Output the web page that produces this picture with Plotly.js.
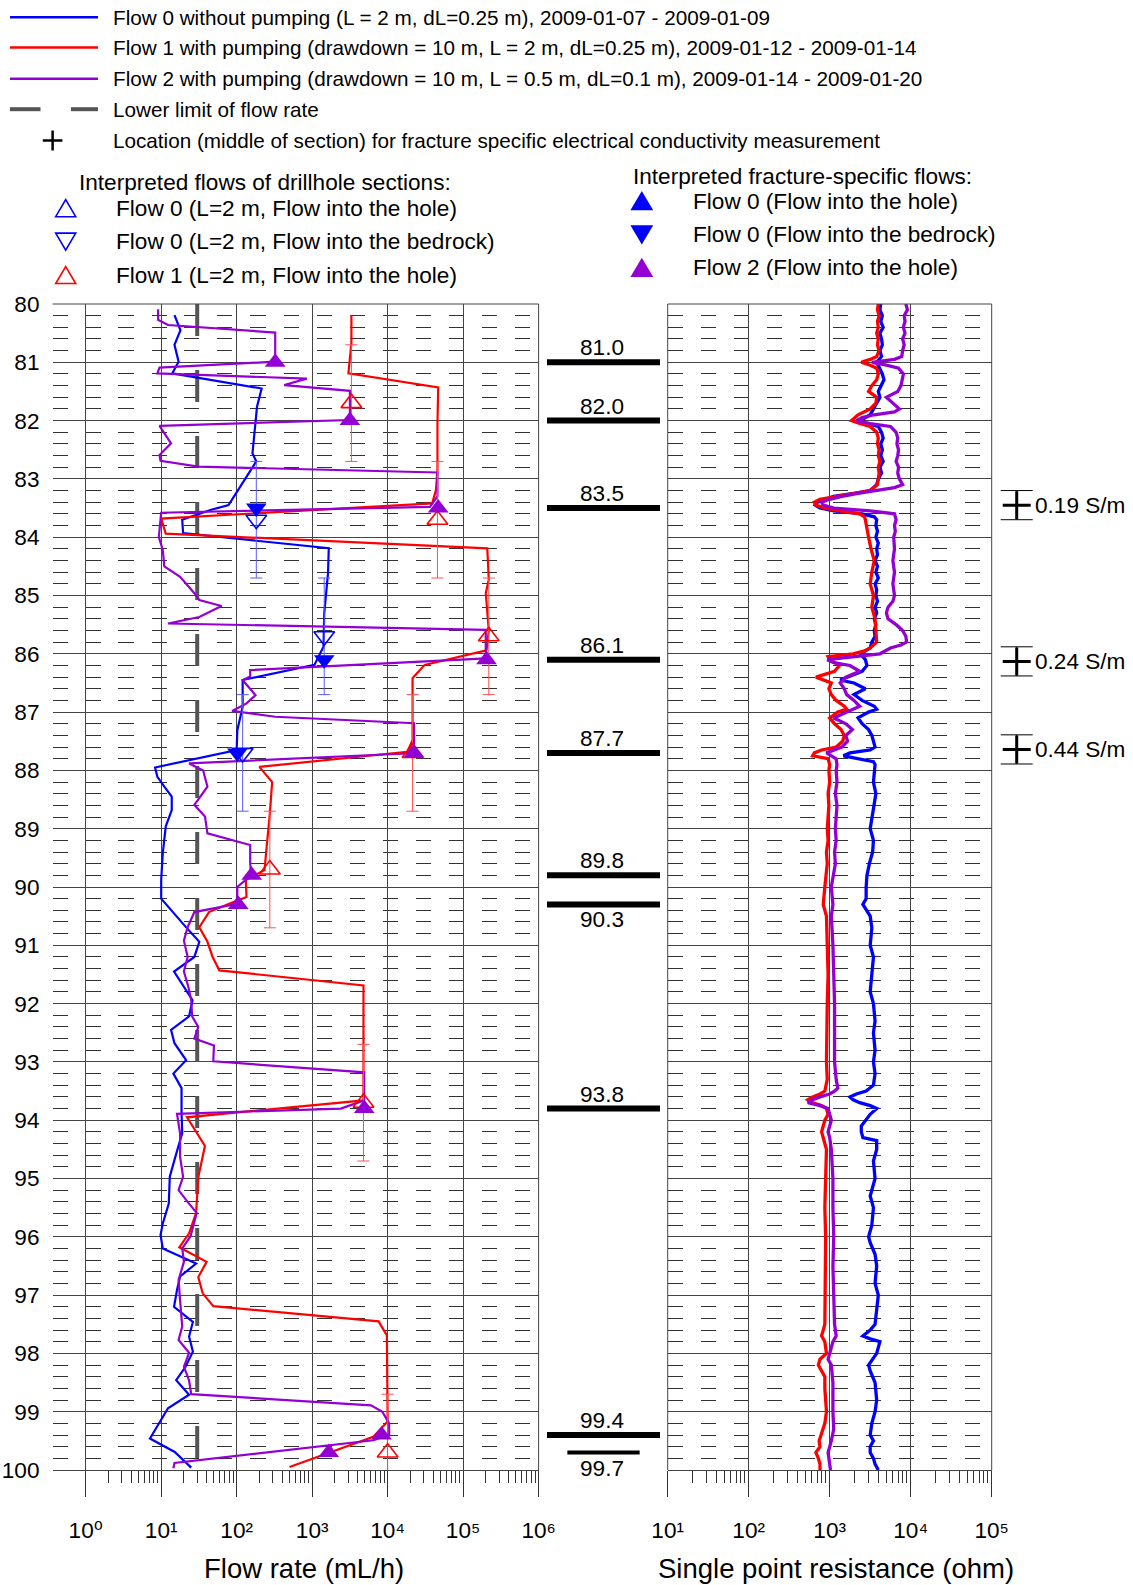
<!DOCTYPE html>
<html><head><meta charset="utf-8">
<script src="https://cdn.plot.ly/plotly-3.0.1.min.js"></script>
<style>html,body{margin:0;padding:0;background:#fff}#chart{width:1133px;height:1585px}</style>
</head><body><div id="chart"></div>
<script>
// ---------------- DATA ----------------
// Flow 0 without pumping (L = 2 m, dL = 0.25 m) : depth (m) / flow (mL/h)
const flow0Depth = [80.19,80.45,80.70,80.99,81.19,81.45,81.76,82.05,82.39,82.56,82.70,83.02,83.45,83.53,83.70,83.93,84.19,84.62,85.31,85.88,86.19,86.45,86.91,87.31,87.65,87.95,88.11,88.28,88.45,88.68,88.96,89.42,89.88,90.20,90.45,90.68,90.94,91.20,91.45,91.71,91.94,92.22,92.45,92.68,92.97,93.20,93.45,93.88,94.22,94.68,94.97,95.43,95.77,95.97,96.20,96.46,96.68,96.91,97.20,97.46,97.71,97.97,98.23,98.46,98.71,98.94,99.46,99.69,99.96];
const flow0Rate  = [15,18,15,17,14,214,186,178,166,162,182,126,78,46,19,19.5,1660,1622,1445,1413,1072,120,120,102,100,8.3,8.9,11,13.8,13.8,11.5,10.5,10,10,14.5,21,32,27.5,14.8,20,26,23.4,13.5,15,21.4,14.5,18.6,18.6,19,15,13,12.6,10.5,9.8,10.5,29,17.8,16.2,14.8,26.3,23.4,26.3,21,15.8,23.4,12.3,7.1,15.1,25];

// Flow 1 with pumping (L = 2 m, dL = 0.25 m)
const flow1Depth = [80.19,80.67,81.19,81.43,82.05,82.85,83.19,83.42,83.68,83.94,84.19,84.73,84.96,85.60,85.94,86.19,86.42,87.02,87.48,87.68,87.94,88.20,88.74,89.42,89.71,89.88,90.17,90.29,90.43,90.69,90.94,91.20,91.43,91.69,93.66,93.95,94.44,94.98,95.59,95.94,96.18,96.43,96.69,96.97,97.19,97.45,97.69,99.17,99.43,99.95];
const flow1Rate  = [3311,3311,3020,46774,45709,45709,43652,38905,10,11.5,208930,218776,199526,218776,204174,30903,21380,21380,21380,18197,200,295,275,245,234,132,135,78,43,32,41,48,59,4786,4786,22,38,31,29,23.4,17.4,40,31,35.5,49,7586,9772,10000,6457,501];

// Flow 2 with pumping (L = 0.5 m, dL = 0.1 m)
const flow2Depth = [80.09,80.27,80.36,80.49,80.99,81.09,81.19,81.28,81.39,81.49,81.99,82.09,82.39,82.59,82.69,82.79,82.89,83.30,83.48,83.58,84.00,84.22,84.50,84.68,84.96,85.08,85.18,85.37,85.48,85.59,86.08,86.28,86.39,86.45,86.71,86.85,86.98,87.08,87.19,87.54,87.71,87.88,88.00,88.28,88.59,88.79,89.08,89.28,89.59,89.80,90.00,90.29,90.43,90.69,90.92,91.20,91.45,91.71,91.94,92.22,92.40,92.60,92.72,92.99,93.18,93.66,93.80,93.89,94.23,94.63,94.97,95.20,95.40,95.59,95.99,96.20,96.43,96.74,97.09,97.54,97.77,97.99,98.23,98.46,98.70,98.89,99.00,99.20,99.40,99.49,99.88,99.97];
const flow2Rate  = [9.1,9.1,12.3,324,324,9.5,8.9,851,427,3162,3162,9.5,13.5,9.5,9.8,31,45709,45709,36308,10,9.3,10.5,11,17.8,27.5,32,63,32,12.3,199526,199526,151,151,120,178,135,87,324,22387,22387,18197,23.4,36,41,27.5,38,41,151,151,155,102,102,27.5,22.4,20,22.4,20,22.9,25,25.7,31,27.5,50,49,4898,4898,2399,16.2,17.8,17.8,19.5,17,22.4,29.5,24.5,19,20,17,17.8,19,17,23.4,20,23.4,25,6026,8511,10471,10471,6457,15,14.5];

// Lower limit of flow rate
const lowerLimitDepth = [80.0, 100.0];
const lowerLimitRate  = [30, 30];

// Interpreted flows of drillhole sections (L = 2 m), section centres
const sectionHalfLength = 1.0;
const flow0SectionDepth = [83.7, 85.7, 87.7];
const flow0SectionRate  = [182, 1445, 120];
const flow1SectionDepth = [81.7, 83.7, 85.7, 87.7, 89.7, 93.7, 99.7];
const flow1SectionRate  = [3311, 45709, 218776, 21380, 275, 4786, 10000];

// Interpreted fracture-specific flows
const fractureDepths     = [81.0, 82.0, 83.5, 86.1, 87.7, 89.8, 90.3, 93.8, 99.4, 99.7];
const flow2FractureRate  = [324, 3162, 46774, 204174, 22387, 158, 105, 4898, 8318, 1660];
const flow0FractureDepth = [83.5, 86.1, 87.7];
const flow0FractureRate  = [182, 1445, 102];
const minorFractureDepths = [99.7];

// Fracture specific electrical conductivity
const ecDepths = [83.45, 86.13, 87.64];
const ecValues = [0.19, 0.24, 0.44];
const ecHalfLength = 0.25;

// Single point resistance (ohm)
const res0Depth = [
 80.0,80.1,80.2,80.3,80.4,80.5,80.6,80.7,80.8,80.9,
 81.0,81.1,81.2,81.3,81.4,81.5,81.6,81.7,81.8,81.9,
 82.0,82.05,82.1,82.2,82.3,82.4,82.5,82.6,82.7,82.8,82.9,
 83.0,83.1,83.2,83.25,83.3,83.4,83.45,83.5,83.55,83.6,83.65,83.7,83.8,83.9,
 84.0,84.1,84.2,84.3,84.4,84.5,84.6,84.7,84.8,84.9,
 85.0,85.1,85.2,85.3,85.4,85.5,85.6,85.7,85.8,85.9,
 86.0,86.1,86.2,86.3,86.4,86.45,86.5,86.6,86.7,86.8,86.9,86.95,
 87.0,87.1,87.2,87.3,87.4,87.5,87.6,87.65,87.7,87.75,87.8,87.85,87.9,
 88.0,88.2,88.4,88.6,88.8,
 89.0,89.2,89.4,89.6,89.8,
 90.0,90.2,90.3,90.5,90.7,
 91.0,91.2,91.5,91.8,
 92.0,92.3,92.5,92.8,
 93.0,93.2,93.4,93.5,93.55,93.6,93.65,93.7,93.75,93.8,93.9,
 94.0,94.1,94.2,94.3,94.35,94.5,94.7,
 95.0,95.3,95.5,95.8,
 96.0,96.1,96.3,96.5,96.8,
 97.0,97.3,97.5,97.6,97.7,97.75,97.8,
 98.0,98.2,98.3,98.5,98.8,
 99.0,99.2,99.4,99.5,99.6,99.7,99.8,99.9,
 100.0];
const res0Ohm = [
 4266,4169,4467,4266,4571,4169,4365,4467,4169,4365,
 3802,4169,4467,4677,4266,3981,4169,3802,3467,3162,
 2399,2818,3981,4365,4571,4266,4467,4266,4571,4169,4365,
 3981,3802,3162,1995,1122,708,661,759,1122,2512,3548,3802,3715,3890,
 3715,3981,3802,3890,3631,3890,3715,3981,3631,3802,
 3715,3890,3631,3802,3548,3715,3548,3631,3311,3162,
 2399,2754,2884,2512,1585,1349,1995,2754,1995,2512,3548,3802,
 3020,2239,2512,3020,3311,3467,3631,3162,1778,1479,2239,3467,3631,
 3548,3467,3715,3548,3311,
 3162,3467,3388,3090,2884,
 2818,2818,2570,3162,3311,
 3162,3467,3311,3162,
 3467,3631,3467,3631,
 3467,3631,3467,2818,2138,1778,1950,2344,3162,3802,3162,
 2818,2455,2455,2570,3802,3802,3467,
 3631,3162,3467,3311,
 3020,3162,3631,3802,3631,
 3981,3802,3631,3162,2570,3162,4169,
 3802,3020,3162,3631,3802,
 3631,3311,3162,3467,3162,3162,3467,3631,
 3981];

const res1Depth = [
 80.0,80.1,80.2,80.3,80.4,80.5,80.6,80.7,80.8,80.9,80.95,
 81.0,81.05,81.1,81.2,81.3,81.4,81.5,81.6,81.7,81.8,81.85,81.9,81.95,
 82.0,82.05,82.1,82.2,82.3,82.4,82.5,82.6,82.7,82.8,82.9,
 83.0,83.1,83.2,83.25,83.3,83.35,83.4,83.45,83.5,83.55,83.6,83.65,83.7,83.8,83.9,
 84.0,84.2,84.4,84.6,84.8,
 85.0,85.2,85.4,85.6,85.8,85.9,85.95,
 86.0,86.05,86.1,86.2,86.3,86.4,86.5,86.6,86.7,86.8,86.9,86.95,
 87.0,87.1,87.2,87.3,87.4,87.5,87.6,87.65,87.7,87.75,87.8,87.9,
 88.0,88.2,88.4,88.6,88.8,
 89.0,89.2,89.4,89.6,89.8,
 90.0,90.3,90.5,
 91.0,91.5,
 92.0,92.5,
 93.0,93.3,93.5,93.55,93.6,93.65,93.7,93.75,93.8,93.9,
 94.0,94.1,94.2,94.3,94.5,
 95.0,95.5,
 96.0,96.5,
 97.0,97.5,97.6,97.7,97.8,
 98.0,98.1,98.2,98.3,98.4,98.6,98.8,
 99.0,99.2,99.4,99.5,99.6,99.7,99.8,99.9,
 100.0];
const res1Ohm = [
 3981,3890,4074,3890,3981,3802,3981,3890,4074,3802,3162,
 2455,3162,3802,3981,3802,3311,3020,3802,3715,3162,2692,2239,2042,
 1862,2344,3162,3802,3981,3890,4074,3981,4169,3981,4074,
 3981,3890,3162,1950,1096,759,646,676,871,1318,2344,2692,2754,2818,2884,
 3020,3236,3548,3311,3162,
 3467,3311,3631,3715,3802,3162,2692,
 1950,955,1000,1318,1148,676,1047,977,1047,1202,1514,1622,
 1259,1000,1148,1380,1514,1445,1202,794,646,617,955,1000,
 977,1000,955,977,955,
 933,955,912,933,891,
 871,832,912,
 933,955,
 933,912,
 912,933,871,759,617,537,617,794,912,955,
 871,832,794,832,912,
 891,871,
 891,891,
 871,871,832,794,871,
 912,759,724,794,871,871,891,
 912,871,794,741,759,676,724,759,
 759];

const res2Depth = [
 80.0,80.1,80.2,80.3,80.4,80.5,80.6,80.7,80.8,80.9,80.95,
 81.0,81.05,81.1,81.2,81.3,81.4,81.5,81.6,81.7,81.8,81.85,81.9,81.95,
 82.0,82.05,82.1,82.2,82.3,82.4,82.5,82.6,82.7,82.8,82.9,
 83.0,83.1,83.15,83.2,83.25,83.3,83.35,83.4,83.45,83.5,83.55,83.6,83.7,83.8,83.9,
 84.0,84.2,84.4,84.6,84.8,
 85.0,85.1,85.2,85.3,85.4,85.5,85.6,85.7,85.8,85.85,85.9,
 86.0,86.05,86.1,86.15,86.2,86.3,86.4,86.5,86.6,86.7,86.8,86.9,
 87.0,87.1,87.2,87.3,87.4,87.5,87.6,87.7,87.75,87.8,87.9,
 88.0,88.2,88.4,88.6,88.8,
 89.0,89.2,89.4,89.6,89.8,
 90.0,90.3,90.5,
 91.0,91.5,
 92.0,92.5,
 93.0,93.3,93.45,93.5,93.55,93.6,93.65,93.7,93.75,93.8,93.9,
 94.0,94.2,94.3,94.5,
 95.0,95.5,
 96.0,96.5,
 97.0,97.5,97.7,97.8,
 98.0,98.1,98.2,98.5,
 99.0,99.3,99.5,99.6,99.7,99.8,99.9,
 100.0];
const res2Ohm = [
 8710,9120,8318,8511,8128,8511,7943,8318,7943,7762,6310,
 3311,5012,7079,8128,7943,7586,6918,5012,6026,7244,6310,3548,2512,
 2138,3162,5623,6607,6918,6761,7079,6918,6607,7079,6918,
 7244,7943,6310,3548,2239,1413,1000,794,832,1122,3162,6310,6607,6310,6457,
 6166,6310,6026,6310,6026,
 6310,6026,5248,5012,5248,6607,7943,8710,8913,7586,5623,
 4169,1995,933,1122,1778,2344,1585,1349,1514,1622,1995,2344,
 1585,1122,1585,1905,1585,1660,1413,912,1047,1202,1230,
 1202,1230,1175,1230,1202,
 1175,1202,1148,1175,1122,
 1047,1096,1047,
 1096,1122,
 1148,1148,
 1148,1202,1259,1148,1000,759,617,537,759,955,1000,
 1047,955,1000,1047,
 1096,1096,
 1122,1096,
 1122,1148,1202,1096,
 1000,955,1047,1096,
 1096,1122,1047,1000,955,977,1000,
 1023];

// Axis tick labels
const flowTickVals = [1, 10, 100, 1e3, 1e4, 1e5, 1e6];
const flowTickText = ['10\u2070','10\u00B9','10\u00B2','10\u00B3','10\u2074','10\u2075','10\u2076'];
const resTickVals = [10, 100, 1e3, 1e4, 1e5];
const resTickText = ['10\u00B9','10\u00B2','10\u00B3','10\u2074','10\u2075'];
const depthTicks = [80,81,82,83,84,85,86,87,88,89,90,91,92,93,94,95,96,97,98,99,100];

// Legend texts
const legendTop = [
  'Flow 0 without pumping (L = 2 m, dL=0.25 m), 2009-01-07 - 2009-01-09',
  'Flow 1 with pumping (drawdown = 10 m, L = 2 m, dL=0.25 m), 2009-01-12 - 2009-01-14',
  'Flow 2 with pumping (drawdown = 10 m, L = 0.5 m, dL=0.1 m), 2009-01-14 - 2009-01-20',
  'Lower limit of flow rate',
  'Location (middle of section) for fracture specific electrical conductivity measurement'
];
const legendSectionTitle = 'Interpreted flows of drillhole sections:';
const legendSection = ['Flow 0 (L=2 m, Flow into the hole)','Flow 0 (L=2 m, Flow into the bedrock)','Flow 1 (L=2 m, Flow into the hole)'];
const legendFractureTitle = 'Interpreted fracture-specific flows:';
const legendFracture = ['Flow 0 (Flow into the hole)','Flow 0 (Flow into the bedrock)','Flow 2 (Flow into the hole)'];

// ---------------- LAYOUT HELPERS ----------------
const W = 1133, H = 1585;
const PX = x => x / W, PY = y => 1 - y / H;
const C0 = '#0000ff', C1 = '#ff0000', C2 = '#9400d3', CL = '#555555', GRID = '#444444';
const FONT = 'Liberation Sans, Arial, Helvetica, DejaVu Sans, sans-serif';

const yDom = [PY(1470), PY(304)];
const xDom = [PX(52.5), PX(538.6)];
const x2Dom = [PX(667.7), PX(991.7)];
const x3Dom = [PX(547), PX(660)];
const x4Dom = [PX(991.7), 1];

function minorLogVals(d0, d1) {
  const v = [];
  for (let d = d0; d <= d1; d++) for (let k = 2; k <= 9; k++) v.push(k * Math.pow(10, d));
  return v;
}

// ---------------- TRACES ----------------
const traces = [];
traces.push({x: lowerLimitRate, y: lowerLimitDepth, xaxis:'x', yaxis:'y', mode:'lines',
  line:{color:CL, width:4, dash:'32px,34px'}});
traces.push({x: flow0Rate, y: flow0Depth, xaxis:'x', yaxis:'y', mode:'lines', line:{color:C0, width:2.2}});
traces.push({x: flow1Rate, y: flow1Depth, xaxis:'x', yaxis:'y', mode:'lines', line:{color:C1, width:2.2}});
traces.push({x: flow2Rate, y: flow2Depth, xaxis:'x', yaxis:'y', mode:'lines', line:{color:C2, width:2.2}});
traces.push({x: flow0SectionRate, y: flow0SectionDepth, xaxis:'x', yaxis:'y', mode:'markers',
  marker:{symbol:'triangle-down-open', size:18, color:C0, line:{width:1.6, color:C0}},
  error_y:{type:'constant', value:sectionHalfLength, color:'#5a5aff', thickness:1, width:6}});
traces.push({x: flow1SectionRate, y: flow1SectionDepth, xaxis:'x', yaxis:'y', mode:'markers', cliponaxis:false,
  marker:{symbol:'triangle-up-open', size:18, color:C1, line:{width:1.6, color:C1}},
  error_y:{type:'constant', value:sectionHalfLength, color:'#ff5050', thickness:1, width:6}});
traces.push({x: flow0FractureRate, y: flow0FractureDepth, xaxis:'x', yaxis:'y', mode:'markers',
  marker:{symbol:'triangle-down', size:18, color:C0}});
traces.push({x: flow2FractureRate, y: fractureDepths, xaxis:'x', yaxis:'y', mode:'markers',
  marker:{symbol:'triangle-up', size:18, color:C2}});

traces.push({x: res0Ohm, y: res0Depth, xaxis:'x2', yaxis:'y2', mode:'lines', line:{color:C0, width:3.3}});
traces.push({x: res1Ohm, y: res1Depth, xaxis:'x2', yaxis:'y2', mode:'lines', line:{color:C1, width:3.3}});
traces.push({x: res2Ohm, y: res2Depth, xaxis:'x2', yaxis:'y2', mode:'lines', line:{color:C2, width:3.3}});

// middle column: fracture depth bars
const majorBars = fractureDepths.filter(d => !minorFractureDepths.includes(d));
const barX = [], barY = [];
majorBars.forEach(d => { barX.push(0, 1, null); barY.push(d, d, null); });
traces.push({x: barX, y: barY, xaxis:'x3', yaxis:'y3', mode:'lines', line:{color:'#000', width:6}});
const mbX = [], mbY = [];
minorFractureDepths.forEach(d => { mbX.push(0.18, 0.82, null); mbY.push(d, d, null); });
traces.push({x: mbX, y: mbY, xaxis:'x3', yaxis:'y3', mode:'lines', line:{color:'#000', width:4}});

// EC measurement locations
traces.push({x: ecDepths.map(() => 0.177), y: ecDepths, xaxis:'x4', yaxis:'y4', mode:'markers', cliponaxis:false,
  marker:{symbol:'cross-thin', size:20, color:'#000', line:{width:3, color:'#000'}},
  error_y:{type:'constant', value:ecHalfLength, color:'#000', thickness:1, width:16}});

// ---------------- ANNOTATIONS & SHAPES ----------------
const annotations = [], shapes = [];
const txt = (x, y, text, size, opts={}) => Object.assign({xref:'paper', yref:'paper', x:PX(x), y:PY(y), text,
  showarrow:false, xanchor:'left', yanchor:'middle', font:{family:FONT, size, color:'#000'}}, opts);
const seg = (x0, y0, x1, y1, color, width) => ({type:'line', xref:'paper', yref:'paper',
  x0:PX(x0), y0:PY(y0), x1:PX(x1), y1:PY(y1), line:{color, width}});
function tri(cx, cy, up, color, filled) {
  const hw = 10, hh = 8.5;
  const pts = up ? [[cx-hw, cy+hh],[cx+hw, cy+hh],[cx, cy-hh]] : [[cx-hw, cy-hh],[cx+hw, cy-hh],[cx, cy+hh]];
  return {type:'path', xref:'paper', yref:'paper',
    path:'M' + pts.map(p => PX(p[0]).toFixed(5) + ',' + PY(p[1]).toFixed(5)).join('L') + 'Z',
    line:{color, width:1.6}, fillcolor: filled ? color : 'rgba(0,0,0,0)'};
}

// top legend
const topY = [17.2, 47.5, 78.8, 109.2, 140.5];
[C0, C1, C2].forEach((c, i) => shapes.push(seg(10, topY[i], 98, topY[i], c, 2.5)));
shapes.push(seg(10, topY[3], 40.5, topY[3], CL, 4));
shapes.push(seg(71, topY[3], 98, topY[3], CL, 4));
shapes.push(seg(42.8, topY[4], 62.4, topY[4], '#000', 2.5));
shapes.push(seg(52.6, topY[4]-10, 52.6, topY[4]+10, '#000', 2.5));
legendTop.forEach((t, i) => annotations.push(txt(110.5, topY[i], t, 20.7)));

// section legend
annotations.push(txt(77, 182, legendSectionTitle, 22.6));
const secY = [208.2, 241.6, 275];
shapes.push(tri(65.7, secY[0], true, C0, false));
shapes.push(tri(65.7, secY[1], false, C0, false));
shapes.push(tri(65.7, secY[2], true, C1, false));
legendSection.forEach((t, i) => annotations.push(txt(113.5, secY[i], t, 22.6)));

// fracture legend
annotations.push(txt(631, 176, legendFractureTitle, 22.6));
const frY = [201, 234.5, 267.8];
shapes.push(tri(641.8, frY[0], true, C0, true));
shapes.push(tri(641.8, frY[1], false, C0, true));
shapes.push(tri(641.8, frY[2], true, C2, true));
legendFracture.forEach((t, i) => annotations.push(txt(690.5, frY[i], t, 22.6)));

// axis titles
annotations.push(txt(304, 1568, 'Flow rate (mL/h)', 27.5, {xanchor:'center'}));
annotations.push(txt(836, 1568, 'Single point resistance (ohm)', 27.5, {xanchor:'center'}));

// fracture depth labels
fractureDepths.forEach((d, i) => {
  const below = i > 0 && (d - fractureDepths[i-1]) < 0.6;
  annotations.push({xref:'x3', yref:'y3', x: 0.49, y: d, text: d.toFixed(1), showarrow:false,
    xanchor:'center', yanchor: below ? 'top' : 'bottom', yshift: below ? -1 : 0,
    font:{family:FONT, size:22.6, color:'#000'}});
});

// EC labels
ecDepths.forEach((d, i) => annotations.push({xref:'x4', yref:'y4', x:0.29, y:d, text: ecValues[i].toFixed(2) + ' S/m',
  showarrow:false, xanchor:'left', yanchor:'middle', font:{family:FONT, size:22.6, color:'#000'}}));

// frames
const fr = (xr, yr, x0, y0, x1, y1) => ({type:'line', xref:xr, yref:yr, x0, y0, x1, y1, line:{color:GRID, width:1}});
shapes.push(fr('x domain','y domain',0,1,1,1));
shapes.push(fr('x domain','y domain',1,0,1,1));
shapes.push(fr('x2 domain','y2 domain',0,1,1,1));
shapes.push(fr('x2 domain','y2 domain',0,0,0,1));
shapes.push(fr('x2 domain','y2 domain',1,0,1,1));

// ---------------- AXES ----------------
const tickFont = {family:FONT, size:22.6, color:'#000'};
const yMinor = {dtick:0.2, showgrid:true, gridcolor:'#333', griddash:'15px,18px', gridwidth:1, ticks:''};
const xCommon = {type:'log', tickmode:'array', ticks:'outside', ticklen:26, tickwidth:1, tickcolor:'#333',
  showgrid:true, gridcolor:GRID, gridwidth:1, showline:true, linecolor:GRID, linewidth:1, zeroline:false,
  tickfont:tickFont, ticklabelstandoff:14};

const layout = {
  width: W, height: H, margin:{l:0, r:0, t:0, b:0}, paper_bgcolor:'#fff', plot_bgcolor:'rgba(0,0,0,0)',
  showlegend:false, font:{family:FONT, color:'#000'},
  xaxis: Object.assign({}, xCommon, {domain:xDom, anchor:'y', range:[-0.44, 6], tickvals:flowTickVals, ticktext:flowTickText,
    minor:{tickmode:'array', tickvals:minorLogVals(0,5), ticks:'outside', ticklen:12, tickwidth:1, tickcolor:'#333', showgrid:false}}),
  xaxis2: Object.assign({}, xCommon, {domain:x2Dom, anchor:'y2', range:[1, 5], tickvals:resTickVals, ticktext:resTickText,
    minor:{tickmode:'array', tickvals:minorLogVals(1,4), ticks:'outside', ticklen:12, tickwidth:1, tickcolor:'#333', showgrid:false}}),
  xaxis3: {domain:x3Dom, anchor:'y3', range:[0,1], visible:false, fixedrange:true},
  xaxis4: {domain:x4Dom, anchor:'y4', range:[0,1], visible:false, fixedrange:true},
  yaxis: {domain:yDom, anchor:'x', range:[100,80], tickmode:'array', tickvals:depthTicks, ticks:'',
    showgrid:true, gridcolor:GRID, gridwidth:1, zeroline:false, showline:false, tickfont:tickFont,
    ticklabelstandoff:12, minor:yMinor},
  yaxis2: {domain:yDom, anchor:'x2', range:[100,80], tickmode:'array', tickvals:depthTicks, ticks:'',
    showticklabels:false, showgrid:true, gridcolor:GRID, gridwidth:1, zeroline:false, showline:false, minor:yMinor},
  yaxis3: {domain:yDom, anchor:'x3', range:[100,80], visible:false},
  yaxis4: {domain:yDom, anchor:'x4', range:[100,80], visible:false},
  annotations, shapes
};

Plotly.newPlot('chart', traces, layout, {staticPlot:true, displayModeBar:false});
</script></body></html>
